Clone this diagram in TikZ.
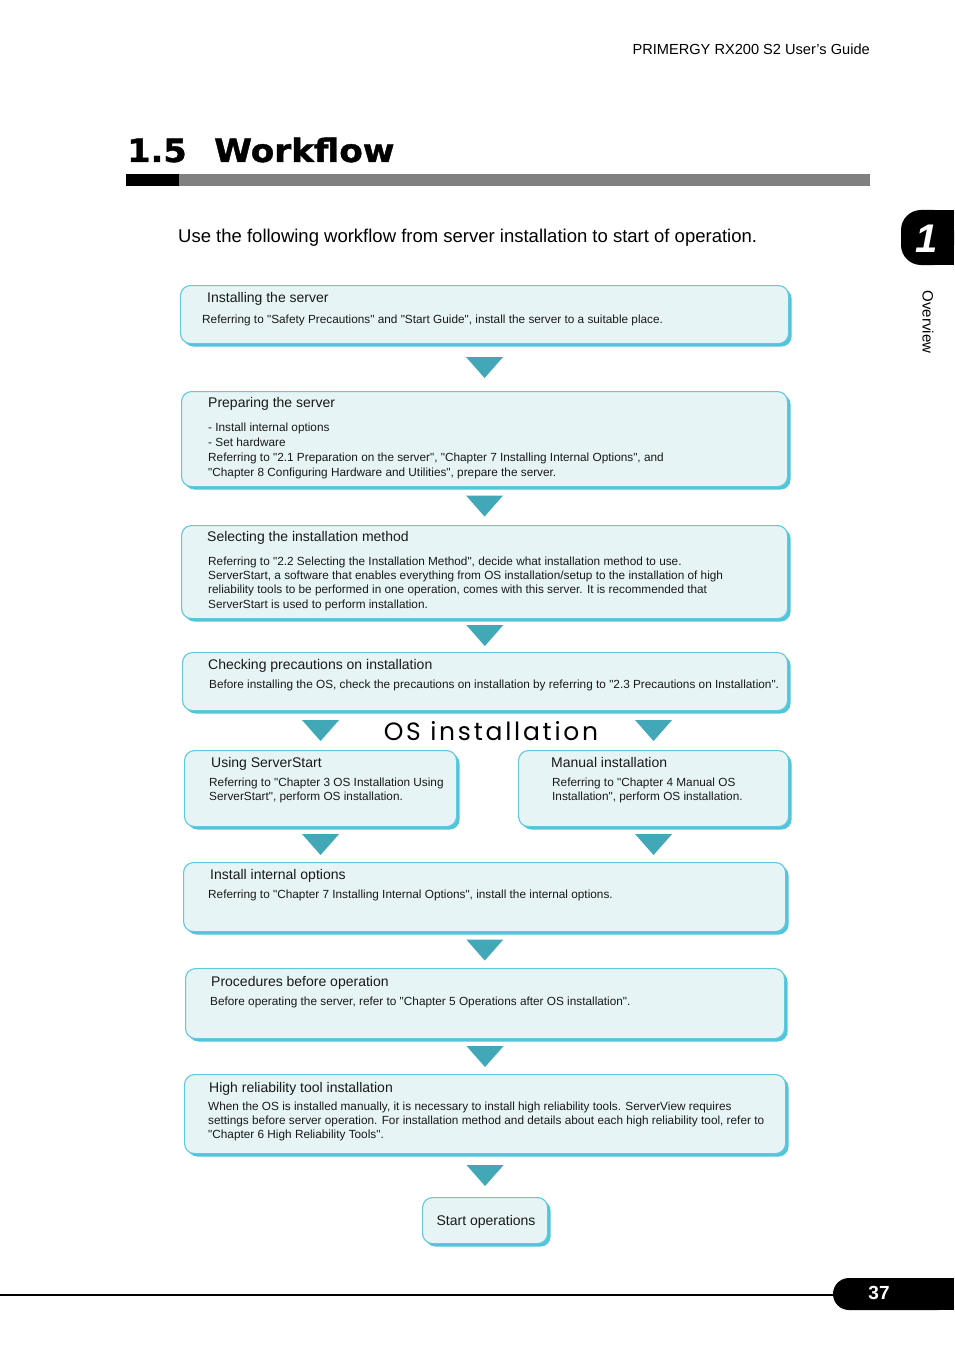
\documentclass[tikz,border=0pt]{standalone}
\usepackage{fontspec}
\setmainfont{Liberation Sans}[Ligatures=TeXOff]
\newfontfamily\heavyfont{DejaVu Sans}[FakeBold=1.2]
\newfontfamily\roundfont{Poppins}
\usetikzlibrary{calc}
\definecolor{wffill}{RGB}{231,244,246}
\definecolor{wfedge}{RGB}{96,201,222}
\definecolor{wfshadow}{RGB}{80,197,219}
\definecolor{wftricol}{RGB}{66,168,184}
\definecolor{wfgray}{RGB}{128,128,128}
\definecolor{wftext}{RGB}{25,25,25}

% downward triangle between two steps
\newcommand{\wftriangle}[1]{\fill[wftricol] ($(#1)+(-18.5,-10.5)$) -- ++(37,0) -- ++(-18.5,21) -- cycle;}

\begin{document}
\begin{tikzpicture}[x=1pt, y=-1pt,
  wfbox/.style={draw=wfedge, line width=1.1pt, fill=wffill, rounded corners=10pt,
    anchor=north west, inner sep=0pt,
    preaction={fill=wfshadow, transform canvas={xshift=3pt, yshift=-3pt}}},
  wftitle/.style={font=\fontsize{14}{16}\selectfont, text=wftext, anchor=mid west, inner sep=0pt, yshift=-2.5pt},
  wfbody/.style={font=\fontsize{11.8}{13}\selectfont, text=wftext, anchor=mid west, inner sep=0pt, yshift=-2pt}]
\useasboundingbox (0,0) rectangle (954,1348);

% page header
\node[font=\fontsize{14.6}{17}\selectfont, anchor=mid east, inner sep=0pt, yshift=-3pt] (hdr) at (870,49) {PRIMERGY RX200 S2 User’s Guide};
\node[font=\heavyfont\bfseries\fontsize{32}{36}\selectfont, anchor=base west, inner sep=0pt, xscale=1.05] (secno) at (127,162) {1.5};
\node[font=\heavyfont\bfseries\fontsize{32}{36}\selectfont, anchor=base west, inner sep=0pt, xscale=1.07] (sectitle) at (214,162) {Workflow};
\fill[black] (126,174) rectangle (179,186);
\fill[wfgray] (179,174) rectangle (870,186);
\node[font=\fontsize{18.5}{21}\selectfont, anchor=mid west, inner sep=0pt, yshift=-3.5pt] (intro) at (178,236) {Use the following workflow from server installation to start of operation.};

% chapter tab
\fill[black, rounded corners=20pt] (954,210) -- (901,210) -- (901,265) -- (954,265) -- cycle;
\fill[black] (930,210) rectangle (954,265);
\node[font=\bfseries\itshape\fontsize{40}{44}\selectfont, text=white, inner sep=0pt] (chap) at (927,239) {1};
\node[font=\fontsize{15}{17}\selectfont, rotate=-90, inner sep=0pt] (ovw) at (928,322) {Overview};

% steps
\node[wfbox, minimum width=608, minimum height=58] (b1) at (180,285) {};
\node[wftitle] (b1t) at (207,297) {Installing the server};
\node[wfbody] (b1a) at (202,319) {Referring to "Safety Precautions" and "Start Guide", install the server to a suitable place.};

\node[wfbox, minimum width=606, minimum height=95] (b2) at (181,391) {};
\node[wftitle] (b2t) at (208,402) {Preparing the server};
\node[wfbody] (b2a) at (208,427) {- Install internal options};
\node[wfbody] (b2b) at (208,442) {- Set hardware};
\node[wfbody] (b2c) at (208,457) {Referring to "2.1 Preparation on the server", "Chapter 7 Installing Internal Options", and};
\node[wfbody] (b2d) at (208,472) {"Chapter 8 Configuring Hardware and Utilities", prepare the server.};

\node[wfbox, minimum width=606, minimum height=93] (b3) at (181,525) {};
\node[wftitle] (b3t) at (207,536) {Selecting the installation method};
\node[wfbody] (b3a) at (208,561) {Referring to "2.2 Selecting the Installation Method", decide what installation method to use.};
\node[wfbody] (b3b) at (208,575) {ServerStart, a software that enables everything from OS installation/setup to the installation of high};
\node[wfbody] (b3c) at (208,589) {reliability tools to be performed in one operation, comes with this server. It is recommended that};
\node[wfbody] (b3d) at (208,604) {ServerStart is used to perform installation.};

\node[wfbox, minimum width=605, minimum height=58] (b4) at (182,652) {};
\node[wftitle] (b4t) at (208,664) {Checking precautions on installation};
\node[wfbody] (b4a) at (209,684) {Before installing the OS, check the precautions on installation by referring to "2.3 Precautions on Installation".};

\node[font=\roundfont\fontsize{25}{28}\selectfont\addfontfeature{LetterSpace=11}, inner sep=0pt] (osi) at (491,731) {OS installation};

\node[wfbox, minimum width=272, minimum height=76] (b5) at (184,750) {};
\node[wftitle] (b5t) at (211,762) {Using ServerStart};
\node[wfbody] (b5a) at (209,782) {Referring to "Chapter 3 OS Installation Using};
\node[wfbody] (b5b) at (209,796) {ServerStart", perform OS installation.};

\node[wfbox, minimum width=270, minimum height=76] (b6) at (518,750) {};
\node[wftitle] (b6t) at (551,762) {Manual installation};
\node[wfbody] (b6a) at (552,782) {Referring to "Chapter 4 Manual OS};
\node[wfbody] (b6b) at (552,796) {Installation", perform OS installation.};

\node[wfbox, minimum width=602, minimum height=69] (b7) at (183,862) {};
\node[wftitle] (b7t) at (210,874) {Install internal options};
\node[wfbody] (b7a) at (208,894) {Referring to "Chapter 7 Installing Internal Options", install the internal options.};

\node[wfbox, minimum width=599, minimum height=70] (b8) at (185,968) {};
\node[wftitle] (b8t) at (211,981) {Procedures before operation};
\node[wfbody] (b8a) at (210,1001) {Before operating the server, refer to "Chapter 5 Operations after OS installation".};

\node[wfbox, minimum width=601, minimum height=79] (b9) at (184,1074) {};
\node[wftitle] (b9t) at (209,1087) {High reliability tool installation};
\node[wfbody] (b9a) at (208,1106) {When the OS is installed manually, it is necessary to install high reliability tools. ServerView requires};
\node[wfbody] (b9b) at (208,1120) {settings before server operation. For installation method and details about each high reliability tool, refer to};
\node[wfbody] (b9c) at (208,1134) {"Chapter 6 High Reliability Tools".};

\node[wfbox, minimum width=125, minimum height=46] (b10) at (422,1197) {};
\node[wftitle, anchor=mid, yshift=0pt] (b10t) at ($(b10.center)+(1,0)$) {Start operations};

% arrows between steps
\coordinate (m12) at ($(b1.south)!0.5!(b2.north)$);
\coordinate (m23) at ($(b2.south)!0.5!(b3.north)$);
\coordinate (m34) at ($(b3.south)!0.5!(b4.north)$);
\coordinate (m45) at ($(b4.south)!0.5!(b5.north)$);
\coordinate (m57) at ($(b5.south)!0.5!(b7.north)$);
\coordinate (m78) at ($(b7.south)!0.5!(b8.north)$);
\coordinate (m89) at ($(b8.south)!0.5!(b9.north)$);
\coordinate (m910) at ($(b9.south)!0.5!(b10.north)$);
\wftriangle{m12}
\wftriangle{m23}
\wftriangle{m34}
\wftriangle{m45 -| b5}
\wftriangle{m45 -| b6}
\wftriangle{m57 -| b5}
\wftriangle{m57 -| b6}
\wftriangle{m78}
\wftriangle{m89}
\wftriangle{m910}

% page footer
\draw[line width=1.3pt] (0,1295) -- (840,1295);
\fill[black, rounded corners=16pt] (954,1278) -- (833,1278) -- (833,1310) -- (954,1310) -- cycle;
\fill[black] (900,1278) rectangle (954,1310);
\node[font=\bfseries\fontsize{19}{21}\selectfont, text=white, inner sep=0pt] (pageno) at (879,1293) {37};
\end{tikzpicture}
\end{document}
